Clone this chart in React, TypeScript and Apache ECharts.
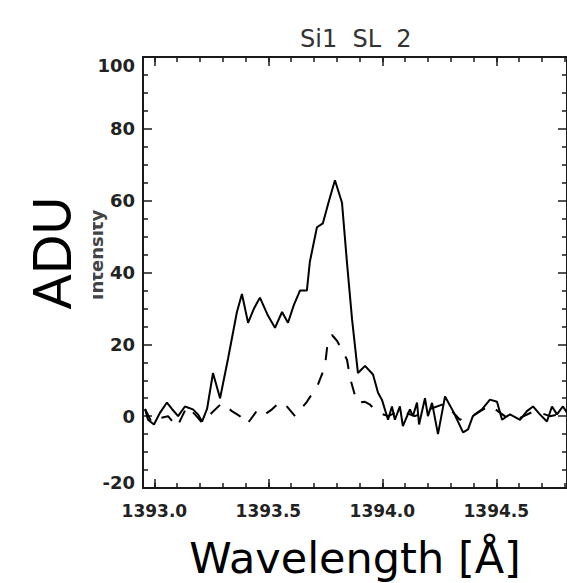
import React, { useEffect, useRef } from "react";
import * as echarts from "echarts";

const titleText = "Si1  SL  2";
const xAxisTitle = "Wavelength [Å]";
const yAxisTitle = "ADU";
const oldYTitle = "Intensity";

const xMajorTicks = [1393.0, 1393.5, 1394.0, 1394.5];
const xMinorTicks = [
  1393.0, 1393.1, 1393.2, 1393.3, 1393.4, 1393.5, 1393.6, 1393.7, 1393.8, 1393.9,
  1394.0, 1394.1, 1394.2, 1394.3, 1394.4, 1394.5, 1394.6, 1394.7, 1394.8,
];

const observedWave = [
  1392.959, 1392.972, 1392.998, 1393.025, 1393.055, 1393.077, 1393.104, 1393.134, 1393.169, 1393.191,
  1393.209, 1393.231, 1393.257, 1393.288, 1393.323, 1393.362, 1393.384, 1393.411, 1393.437, 1393.463,
  1393.498, 1393.529, 1393.56, 1393.586, 1393.612, 1393.639, 1393.669, 1393.682, 1393.713, 1393.739,
  1393.766, 1393.792, 1393.823, 1393.845, 1393.867, 1393.893, 1393.924, 1393.959, 1393.981, 1393.998,
  1394.025, 1394.042, 1394.055, 1394.077, 1394.09, 1394.121, 1394.134, 1394.152, 1394.161, 1394.187,
  1394.2, 1394.218, 1394.244, 1394.275, 1394.31, 1394.354, 1394.376, 1394.397, 1394.437, 1394.472,
  1394.503, 1394.525, 1394.56, 1394.604, 1394.634, 1394.661, 1394.691, 1394.722, 1394.744, 1394.766,
  1394.792, 1394.81,
];
const observedADU = [
  2, -1, -2.3, 1, 3.8, 2, 0, 2.7, 1.9, 0.5,
  -1.5, 2, 12, 5, 16, 29, 34, 26, 30, 33,
  28, 24.6, 29, 26, 31, 35, 35, 43, 52.6, 53.7,
  60, 65.7, 59.4, 42.6, 27, 12, 14, 11.6, 6.5, 4.6,
  -1, 2.7, -1, 2.7, -2.8, 1.9, 0, 3.8, -2.3, 5,
  0, 3.7, -5, 5.5, 1.4, -4.5, -3.7, 0, 1.9, 4.6,
  4, -1, 0.5, -1, 1.4, 2.7, 0.5, -1.5, 2.7, 0.5,
  2.7, 1,
];

const componentWave = [
  1392.959, 1392.989, 1393.025, 1393.06, 1393.099, 1393.143, 1393.178, 1393.209, 1393.253, 1393.297,
  1393.34, 1393.375, 1393.406, 1393.454, 1393.485, 1393.516, 1393.551, 1393.577, 1393.617, 1393.669,
  1393.717, 1393.748, 1393.761, 1393.779, 1393.801, 1393.845, 1393.858, 1393.889, 1393.924, 1393.946,
  1393.981, 1394.025, 1394.077, 1394.143, 1394.209, 1394.275, 1394.34, 1394.406, 1394.472, 1394.537,
  1394.604, 1394.669, 1394.735, 1394.81,
];
const componentADU = [
  2, -1.8, -0.5, 0, -3, 2.7, 0.5, -1.8, 1, 3.7,
  1.4, 0, -2.3, 1.9, 0.5, 1.9, 4, 3, 0, 4,
  8.7, 13.8, 21, 22.6, 21, 15.7, 10.7, 3.7, 4, 3.2,
  1, 0, 1.5, 0, 2, 3.5, -1, 0.5, 3, 0,
  -0.5, 1.5, 0, 1,
];

const X_MIN = 1392.95;
const X_MAX = 1394.81;
const Y_MIN = -20;
const Y_MAX = 100;

export default function App() {
  const ref = useRef<HTMLDivElement>(null);
  useEffect(() => {
    document.body.style.margin = "0";
    if (!ref.current) return;
    const chart = echarts.init(ref.current, null, { renderer: "svg" });
    const axisColor = "#1a1a1a";
    const labelFont = "DejaVu Sans";
    const tickStyle = { color: axisColor, width: 1.5 };
    const hiddenX = {
      type: "value" as const,
      min: X_MIN,
      max: X_MAX,
      axisLabel: { show: false },
      splitLine: { show: false },
    };
    chart.setOption({
      animation: false,
      backgroundColor: "#ffffff",
      title: {
        text: titleText,
        left: 300,
        top: 27,
        padding: 0,
        textStyle: { fontFamily: labelFont, fontSize: 24, fontWeight: "normal", color: "#333" },
      },
      grid: { left: 143, right: 0, top: 57, bottom: 95, containLabel: false, outerBoundsMode: "none" },
      xAxis: [
        {
          type: "value",
          position: "bottom",
          min: X_MIN,
          max: X_MAX,
          name: xAxisTitle,
          nameLocation: "middle",
          nameGap: 48,
          nameTextStyle: { fontFamily: "DejaVu Sans", fontSize: 43, color: "#000" },
          axisLine: { show: true, onZero: false, lineStyle: { color: axisColor, width: 2 } },
          axisTick: { show: true, inside: true, length: 9, customValues: xMajorTicks, lineStyle: tickStyle },
          axisLabel: {
            customValues: xMajorTicks,
            margin: 14,
            fontFamily: labelFont,
            fontSize: 17,
            fontWeight: "bold",
            color: "#222",
            formatter: (v: number) => v.toFixed(1),
          },
          splitLine: { show: false },
        },
        {
          ...hiddenX,
          position: "bottom",
          axisLine: { show: false, onZero: false },
          axisTick: { show: true, inside: true, length: 5, customValues: xMinorTicks, lineStyle: tickStyle },
        },
        {
          ...hiddenX,
          position: "top",
          axisLine: { show: true, onZero: false, lineStyle: { color: axisColor, width: 2 } },
          axisTick: { show: true, inside: true, length: 9, customValues: xMajorTicks, lineStyle: tickStyle },
        },
        {
          ...hiddenX,
          position: "top",
          axisLine: { show: false, onZero: false },
          axisTick: { show: true, inside: true, length: 5, customValues: xMinorTicks, lineStyle: tickStyle },
        },
      ],
      yAxis: [
        {
          type: "value",
          position: "left",
          min: Y_MIN,
          max: Y_MAX,
          interval: 20,
          axisLine: { show: true, onZero: false, lineStyle: { color: axisColor, width: 2 } },
          axisTick: { show: true, inside: true, length: 9, lineStyle: tickStyle },
          minorTick: { show: true, splitNumber: 4, length: 5, lineStyle: tickStyle },
          axisLabel: {
            margin: 8,
            fontFamily: labelFont,
            fontSize: 18,
            fontWeight: "bold",
            color: "#222",
            formatter: (v: number) => (v === Y_MAX ? `{top|${v}}` : v === Y_MIN ? `{bot|${v}}` : String(v)),
            rich: {
              top: { fontFamily: labelFont, fontSize: 18, fontWeight: "bold", color: "#222", padding: [16, 0, 0, 0] },
              bot: { fontFamily: labelFont, fontSize: 18, fontWeight: "bold", color: "#222", padding: [0, 0, 12, 0] },
            },
          },
          splitLine: { show: false },
        },
        {
          type: "value",
          position: "right",
          min: Y_MIN,
          max: Y_MAX,
          interval: 20,
          axisLine: { show: true, onZero: false, lineStyle: { color: axisColor, width: 2 } },
          axisTick: { show: true, inside: true, length: 9, lineStyle: tickStyle },
          minorTick: { show: true, splitNumber: 4, length: 5, lineStyle: tickStyle },
          axisLabel: { show: false },
          splitLine: { show: false },
        },
      ],
      graphic: [
        {
          type: "text",
          x: 96,
          y: 255,
          rotation: Math.PI / 2,
          z: 10,
          style: {
            text: oldYTitle,
            fontFamily: labelFont,
            fontSize: 18,
            fontWeight: "bold",
            fill: "#444",
            align: "center",
            verticalAlign: "middle",
          },
        },
        {
          type: "rect",
          z: 11,
          shape: { x: 76, y: 196, width: 17, height: 114 },
          style: { fill: "#ffffff" },
        },
        {
          type: "text",
          x: 51,
          y: 253,
          rotation: Math.PI / 2,
          z: 12,
          style: {
            text: yAxisTitle,
            fontFamily: "Lato",
            fontSize: 52,
            fill: "#000",
            align: "center",
            verticalAlign: "middle",
          },
        },
      ],
      series: [
        {
          type: "line",
          name: "observed",
          xAxisIndex: 0,
          yAxisIndex: 0,
          data: observedWave.map((w, i) => [w, observedADU[i]]),
          showSymbol: false,
          symbol: "none",
          lineStyle: { color: "#000", width: 2 },
          clip: true,
        },
        {
          type: "line",
          name: "component",
          xAxisIndex: 0,
          yAxisIndex: 0,
          data: componentWave.map((w, i) => [w, componentADU[i]]),
          showSymbol: false,
          symbol: "none",
          lineStyle: { color: "#000", width: 2, type: [13, 13] },
          clip: true,
        },
      ],
    });
    return () => chart.dispose();
  }, []);
  return <div ref={ref} style={{ width: 567, height: 583 }} />;
}
